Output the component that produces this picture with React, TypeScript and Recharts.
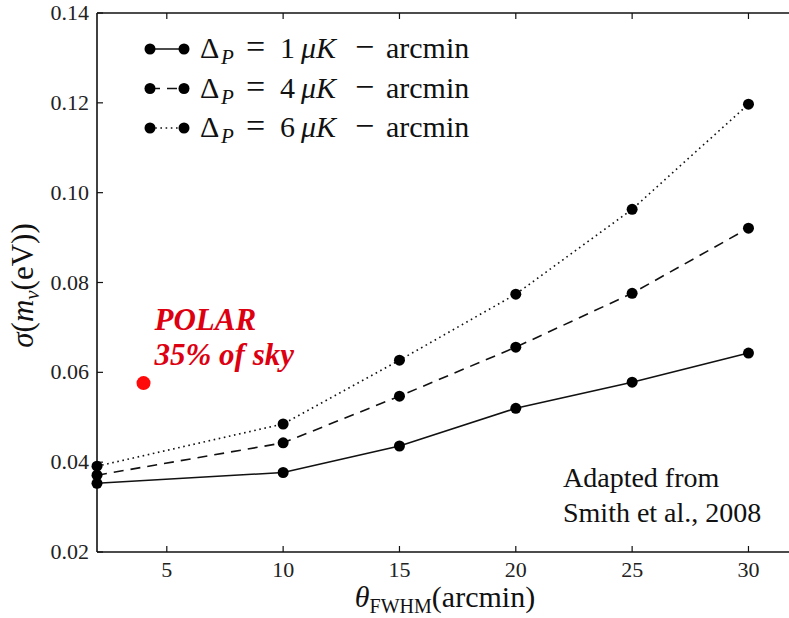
import React from 'react';
import {
  LineChart,
  Line,
  XAxis,
  YAxis,
  Legend,
  ReferenceDot,
} from 'recharts';

// beam width (arcmin) and forecast sigma(m_nu) for three polarization noise levels
const fwhm = [2, 10, 15, 20, 25, 30];
const sigmaNoise1 = [0.0353, 0.0377, 0.0436, 0.052, 0.0578, 0.0643];
const sigmaNoise4 = [0.0371, 0.0443, 0.0547, 0.0656, 0.0776, 0.0921];
const sigmaNoise6 = [0.0391, 0.0485, 0.0627, 0.0774, 0.0963, 0.1197];
const noiseLevels = [1, 4, 6];
const dashStyles = ['', '10 7', '1.6 3.6'];

// single survey point
const polarFwhm = 4;
const polarSigma = 0.0576;

const xTicks = [5, 10, 15, 20, 25, 30];
const yTicks = [0.02, 0.04, 0.06, 0.08, 0.1, 0.12, 0.14];
const xDomain = [2, 32];
const yDomain = [0.02, 0.14];

const data = fwhm.map((f, i) => ({
  fwhm: f,
  s1: sigmaNoise1[i],
  s4: sigmaNoise4[i],
  s6: sigmaNoise6[i],
}));
const seriesKeys = ['s1', 's4', 's6'];

const FONT = 'Liberation Serif';
const INK = '#111';
const TICK_LEN = 6;

const BottomTick = ({ x, y, payload }: any) => (
  <text x={x} y={y + 25} textAnchor="middle" fontFamily={FONT} fontSize={22} fill="#222">
    {payload.value}
  </text>
);

const LeftTick = ({ x, y, payload }: any) => (
  <text x={x - 8} y={y + 7} textAnchor="end" fontFamily={FONT} fontSize={22} fill="#222">
    {payload.value.toFixed(2)}
  </text>
);

const NoLabel = () => null;

const YTitle = ({ viewBox }: any) => {
  const cx = viewBox.x + 33;
  const cy = viewBox.y + viewBox.height / 2 + 3;
  return (
    <text
      x={cx}
      y={cy}
      transform={`rotate(-90 ${cx} ${cy})`}
      textAnchor="middle"
      fontFamily={FONT}
      fontSize={31}
      fill="#111"
    >
      <tspan fontStyle="italic">σ</tspan>(<tspan fontStyle="italic">m</tspan>
      <tspan fontStyle="italic" fontSize={21} dy={6}>ν</tspan>
      <tspan dy={-6}>(eV))</tspan>
    </text>
  );
};

const XTitle = ({ viewBox }: any) => (
  <text
    x={445}
    y={viewBox.y + 55}
    textAnchor="middle"
    fontFamily={FONT}
    fontSize={30}
    fill="#111"
  >
    <tspan fontStyle="italic">θ</tspan>
    <tspan fontSize={20} dy={6}>FWHM</tspan>
    <tspan dy={-6}>(arcmin)</tspan>
  </text>
);

const PolarLabel = ({ viewBox }: any) => {
  const cx = viewBox.x + viewBox.width / 2;
  const cy = viewBox.y + viewBox.height / 2;
  return (
    <g fill="#dd0010" fontFamily={FONT} fontSize={31} fontWeight={700} fontStyle="italic">
      <text x={cx + 11} y={cy - 53}>POLAR</text>
      <text x={cx + 11} y={cy - 18}>35% of sky</text>
    </g>
  );
};

// legend rows, laid out like the LaTeX math labels
const NoiseLegend = () => (
  <svg width={360} height={125}>
    {noiseLevels.map((lvl, i) => {
      const cy = 21 + i * 39.5;
      const tx = 60;
      return (
        <g key={lvl}>
          <line
            x1={10}
            x2={44}
            y1={cy}
            y2={cy}
            stroke={INK}
            strokeWidth={1.6}
            strokeDasharray={dashStyles[i] || undefined}
          />
          <circle cx={10} cy={cy} r={5.5} fill="#000" />
          <circle cx={44} cy={cy} r={5.5} fill="#000" />
          <text y={cy + 9} fontFamily={FONT} fontSize={30} fill="#111">
            <tspan x={tx}>Δ</tspan>
            <tspan x={tx + 21} fontStyle="italic" fontSize={21} dy={6}>P</tspan>
            <tspan x={tx + 46} dy={-6} fontSize={34}>=</tspan>
            <tspan x={tx + 80}>{lvl}</tspan>
            <tspan x={tx + 101} fontStyle="italic">μK</tspan>
            <tspan x={tx + 155} fontSize={34}>−</tspan>
            <tspan x={tx + 186}>arcmin</tspan>
          </text>
        </g>
      );
    })}
  </svg>
);

const tickLineStyle = { stroke: INK, strokeWidth: 1.2 };
const axisLineStyle = { stroke: INK, strokeWidth: 1.6 };

export default function App() {
  return (
    <div style={{ position: 'relative', width: 789, height: 618, overflow: 'hidden', background: '#fff' }}>
      <style>{'body{margin:0}'}</style>
      <LineChart
        width={797}
        height={618}
        data={data}
        margin={{ top: 12, right: 1, bottom: 0, left: 0 }}
      >
        <XAxis
          dataKey="fwhm"
          type="number"
          domain={xDomain}
          ticks={xTicks}
          interval={0}
          height={66}
          tickSize={-TICK_LEN}
          tickMargin={TICK_LEN}
          tickLine={tickLineStyle}
          tick={<BottomTick />}
          axisLine={axisLineStyle}
          label={<XTitle />}
        />
        <XAxis
          xAxisId="top"
          orientation="top"
          type="number"
          dataKey="fwhm"
          domain={xDomain}
          ticks={xTicks}
          interval={0}
          height={1}
          tickSize={-TICK_LEN}
          tickLine={tickLineStyle}
          tick={<NoLabel />}
          axisLine={axisLineStyle}
        />
        <YAxis
          type="number"
          domain={yDomain}
          ticks={yTicks}
          interval={0}
          width={97}
          tickSize={-TICK_LEN}
          tickMargin={TICK_LEN}
          tickLine={tickLineStyle}
          tick={<LeftTick />}
          axisLine={axisLineStyle}
          label={<YTitle />}
        />
        <YAxis
          yAxisId="right"
          orientation="right"
          type="number"
          domain={yDomain}
          ticks={yTicks}
          interval={0}
          width={1}
          tickSize={-TICK_LEN - 2}
          tickLine={tickLineStyle}
          tick={<NoLabel />}
          axisLine={axisLineStyle}
        />
        {seriesKeys.map((key, i) => (
          <Line
            key={key}
            dataKey={key}
            type="linear"
            stroke={INK}
            strokeWidth={1.6}
            strokeDasharray={dashStyles[i] || undefined}
            dot={{ r: 5.5, fill: '#000', stroke: 'none', strokeDasharray: '' }}
            activeDot={false}
            isAnimationActive={false}
          />
        ))}
        <ReferenceDot
          x={polarFwhm}
          y={polarSigma}
          r={7}
          fill="#ff0a0a"
          stroke="none"
          label={<PolarLabel />}
        />
        <Legend
          layout="vertical"
          align="center"
          verticalAlign="middle"
          wrapperStyle={{ top: 28, left: 140, width: 360 }}
          content={<NoiseLegend />}
        />
      </LineChart>
      <svg
        width={789}
        height={618}
        style={{ position: 'absolute', left: 0, top: 0, pointerEvents: 'none' }}
      >
        <text x={563} y={487} fontFamily={FONT} fontSize={28} fill="#111">Adapted from</text>
        <text x={563} y={522} fontFamily={FONT} fontSize={28} fill="#111">Smith et al., 2008</text>
      </svg>
    </div>
  );
}
